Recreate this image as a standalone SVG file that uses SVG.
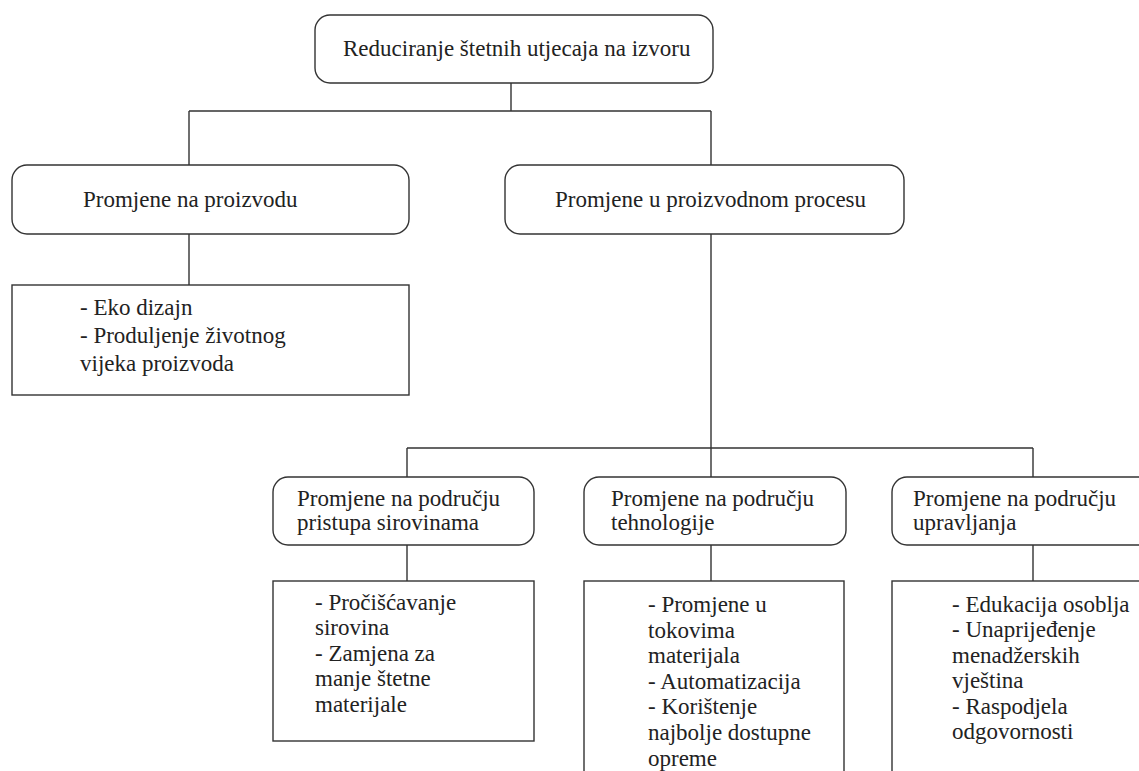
<svg xmlns="http://www.w3.org/2000/svg" width="1139" height="771" viewBox="0 0 1139 771">
<style>
.box{fill:#fff;stroke:#333;stroke-width:1.4}
.ln{fill:none;stroke:#333;stroke-width:1.4}
text{font-family:'Liberation Serif','DejaVu Serif',serif;font-size:23px;fill:#222}
</style>
<rect width="1139" height="771" fill="#fff"/>
<g id="connectors">
<path class="ln" d="M511 83V111M189 111H711M189 111V165M711 111V165M189 234V285M711 234V448M407 448H1033M407 448V477M711 448V477M1033 448V477M407 545V581M711 545V581M1033 545V581"/>
</g>
<g id="n-root">
<rect class="box" x="315" y="15" width="398" height="68" rx="15"/>
<text x="343" y="56">Reduciranje štetnih utjecaja na izvoru</text>
</g>
<g id="n-proizvod">
<rect class="box" x="12" y="165" width="397" height="69" rx="15"/>
<text x="83" y="207">Promjene na proizvodu</text>
</g>
<g id="n-proizvod-list">
<rect class="box" x="12" y="285" width="397" height="110"/>
<text x="80" y="315">- Eko dizajn</text>
<text x="80" y="343">- Produljenje životnog</text>
<text x="80" y="371">vijeka proizvoda</text>
</g>
<g id="n-proces">
<rect class="box" x="505" y="165" width="399" height="69" rx="15"/>
<text x="555" y="207">Promjene u proizvodnom procesu</text>
</g>
<g id="n-sirovine">
<rect class="box" x="273" y="477" width="261" height="68" rx="15"/>
<text x="297" y="506">Promjene na području</text>
<text x="297" y="530">pristupa sirovinama</text>
</g>
<g id="n-sirovine-list">
<rect class="box" x="273" y="581" width="261" height="160"/>
<text x="315" y="610">- Pročišćavanje</text>
<text x="315" y="635">sirovina</text>
<text x="315" y="661">- Zamjena za</text>
<text x="315" y="686">manje štetne</text>
<text x="315" y="712">materijale</text>
</g>
<g id="n-tehnologija">
<rect class="box" x="584" y="477" width="262" height="68" rx="15"/>
<text x="611" y="506">Promjene na području</text>
<text x="611" y="530">tehnologije</text>
</g>
<g id="n-tehnologija-list">
<rect class="box" x="584" y="581" width="260" height="210"/>
<text x="648" y="612">- Promjene u</text>
<text x="648" y="638">tokovima</text>
<text x="648" y="663">materijala</text>
<text x="648" y="689">- Automatizacija</text>
<text x="648" y="714">- Korištenje</text>
<text x="648" y="740">najbolje dostupne</text>
<text x="648" y="766">opreme</text>
</g>
<g id="n-upravljanje">
<rect class="box" x="892" y="477" width="270" height="68" rx="15"/>
<text x="913" y="506">Promjene na području</text>
<text x="913" y="530">upravljanja</text>
</g>
<g id="n-upravljanje-list">
<rect class="box" x="892" y="581" width="270" height="210"/>
<text x="952" y="612">- Edukacija osoblja</text>
<text x="952" y="637">- Unaprijeđenje</text>
<text x="952" y="663">menadžerskih</text>
<text x="952" y="688">vještina</text>
<text x="952" y="714">- Raspodjela</text>
<text x="952" y="739">odgovornosti</text>
</g>
</svg>
